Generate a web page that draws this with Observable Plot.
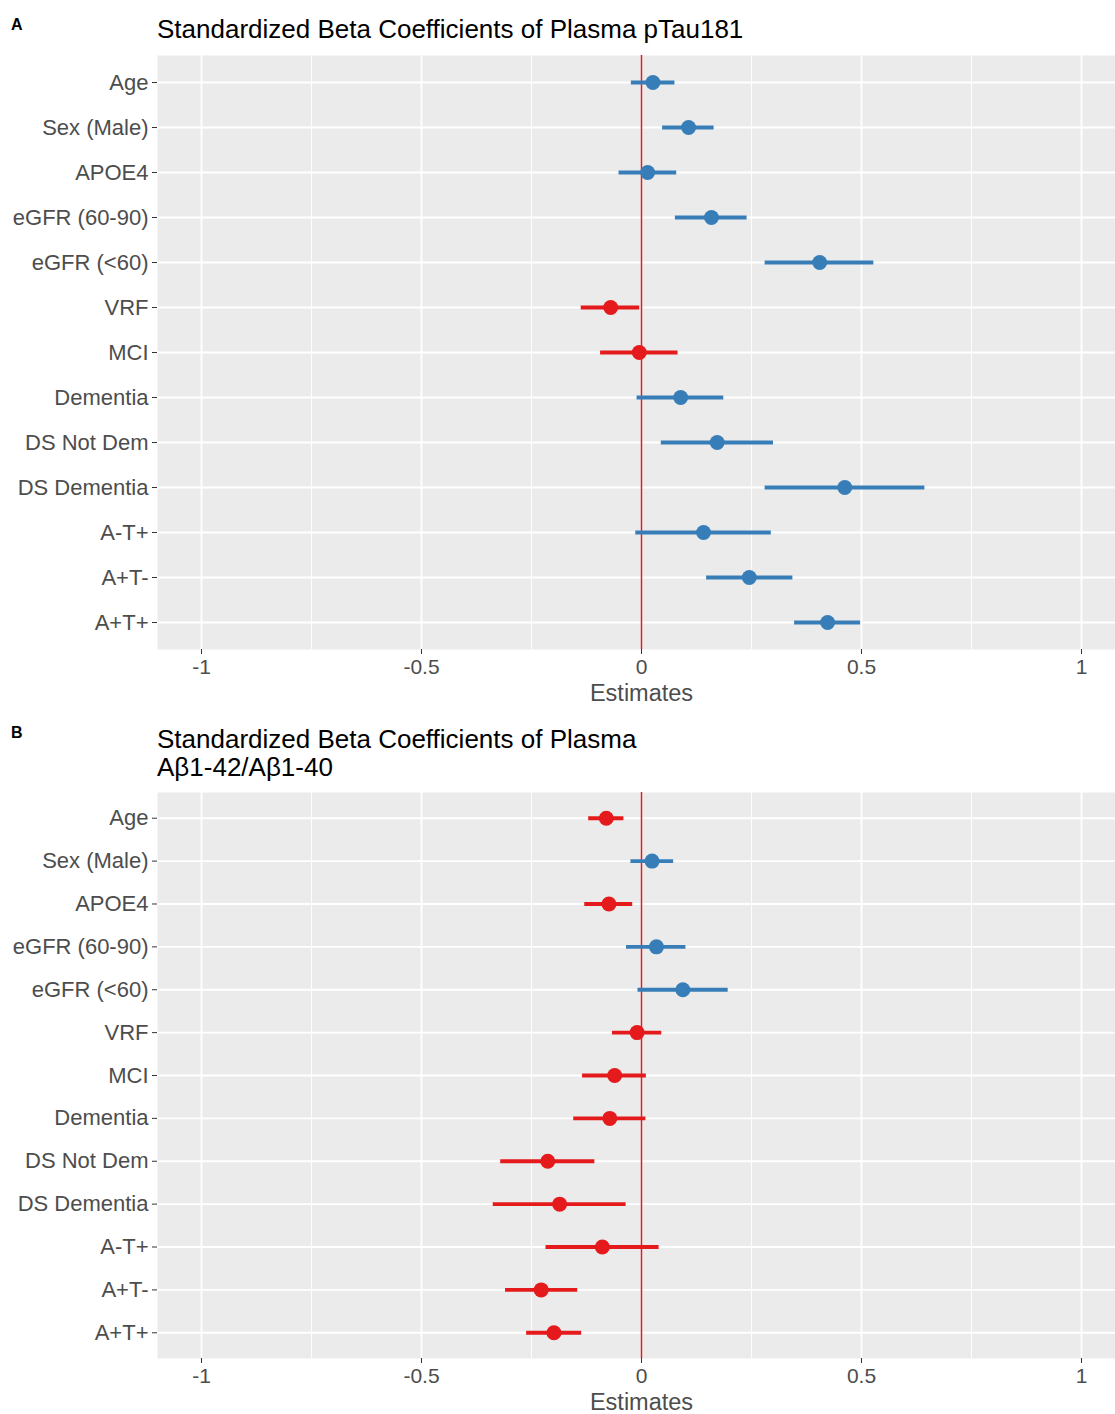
<!DOCTYPE html>
<html><head><meta charset="utf-8">
<script src="https://cdn.jsdelivr.net/npm/d3@7"></script>
<script src="https://cdn.jsdelivr.net/npm/@observablehq/plot@0.6"></script>
<style>
body{margin:0;background:#fff;font-family:"Liberation Sans",Arial,Helvetica,sans-serif;}
#wrap{position:relative;width:1115px;height:1414px;overflow:hidden;background:#fff;}
.lab{position:absolute;left:11px;font-weight:bold;font-size:16px;color:#000;}
.title{position:absolute;left:157px;font-size:26px;line-height:28px;color:#000;white-space:nowrap;}
.plot{position:absolute;left:0;}
</style></head>
<body><div id="wrap">
<div class="lab" style="top:16px">A</div>
<div class="title" style="top:15px">Standardized Beta Coefficients of Plasma pTau181</div>
<div class="lab" style="top:724px">B</div>
<div class="title" style="top:725px">Standardized Beta Coefficients of Plasma<br>Aβ1-42/Aβ1-40</div>
</div>
<script>
const terms = ["Age","Sex (Male)","APOE4","eGFR (60-90)","eGFR (<60)","VRF","MCI","Dementia","DS Not Dem","DS Dementia","A-T+","A+T-","A+T+"];
const majorTicks = [-1, -0.5, 0, 0.5, 1];
const minorTicks = [-0.75, -0.25, 0.25, 0.75];

const estA  = [0.026, 0.107, 0.014, 0.159, 0.405, -0.070, -0.005, 0.089, 0.172, 0.462, 0.141, 0.245, 0.423];
const lowA  = [-0.023, 0.048, -0.051, 0.077, 0.281, -0.137, -0.093, -0.010, 0.045, 0.281, -0.013, 0.148, 0.348];
const highA = [0.076, 0.165, 0.080, 0.240, 0.528, -0.004, 0.083, 0.187, 0.300, 0.644, 0.295, 0.344, 0.498];

const estB  = [-0.080, 0.024, -0.074, 0.034, 0.094, -0.010, -0.061, -0.072, -0.213, -0.186, -0.089, -0.228, -0.199];
const lowB  = [-0.120, -0.024, -0.129, -0.034, -0.008, -0.066, -0.134, -0.154, -0.320, -0.337, -0.217, -0.309, -0.261];
const highB = [-0.040, 0.073, -0.020, 0.101, 0.197, 0.046, 0.011, 0.010, -0.106, -0.035, 0.040, -0.145, -0.136];

function makePlot(est, low, high, panelH) {
  const rows = terms.map((t, i) => ({term: t, est: est[i], low: low[i], high: high[i], sign: est[i] > 0 ? "pos" : "neg"}));
  return Plot.plot({
    width: 1115, height: panelH + 58,
    marginTop: 0, marginBottom: 58, marginLeft: 157, marginRight: 0,
    style: {fontFamily: '"Liberation Sans", Arial, Helvetica, sans-serif', background: "transparent", overflow: "visible"},
    x: {domain: [-1.1, 1.1], range: [157, 1125]},
    y: {type: "point", domain: terms, padding: 0.6, round: false},
    color: {domain: ["neg", "pos"], range: ["#E41A1C", "#377EB8"]},
    marks: [
      Plot.frame({fill: "#EBEBEB", stroke: null}),
      Plot.gridX(minorTicks, {stroke: "white", strokeOpacity: 1, strokeWidth: 0.9}),
      Plot.gridX(majorTicks, {stroke: "white", strokeOpacity: 1, strokeWidth: 1.8}),
      Plot.gridY({stroke: "white", strokeOpacity: 1, strokeWidth: 1.8}),
      Plot.ruleX([{x: 0, sign: "neg"}], {x: "x", stroke: "sign", strokeWidth: 1.5}),
      Plot.ruleY(rows, {y: "term", x1: "low", x2: "high", stroke: "sign", strokeWidth: 3.8}),
      Plot.dot(rows, {y: "term", x: "est", fill: "sign", r: 7.5}),
      Plot.axisX(majorTicks, {tickSize: 5, tickPadding: 5, fontSize: 21, fill: "#4D4D4D", stroke: "#333", tickFormat: d => String(d), label: null}),
      Plot.axisY({tickSize: 5, tickPadding: 4, fontSize: 22, fill: "#4D4D4D", stroke: "#333", label: null}),
      Plot.text(["Estimates"], {x: [0], text: d => d, frameAnchor: "bottom", dy: 44, fontSize: 23.5, fill: "#4D4D4D", lineAnchor: "middle"})
    ]
  });
}

const wrap = document.getElementById("wrap");
const pA = makePlot(estA, lowA, highA, 594);
pA.classList.add("plot"); pA.style.top = "55px";
wrap.appendChild(pA);
const pB = makePlot(estB, lowB, highB, 566);
pB.classList.add("plot"); pB.style.top = "792px";
wrap.appendChild(pB);
</script>
</body></html>
